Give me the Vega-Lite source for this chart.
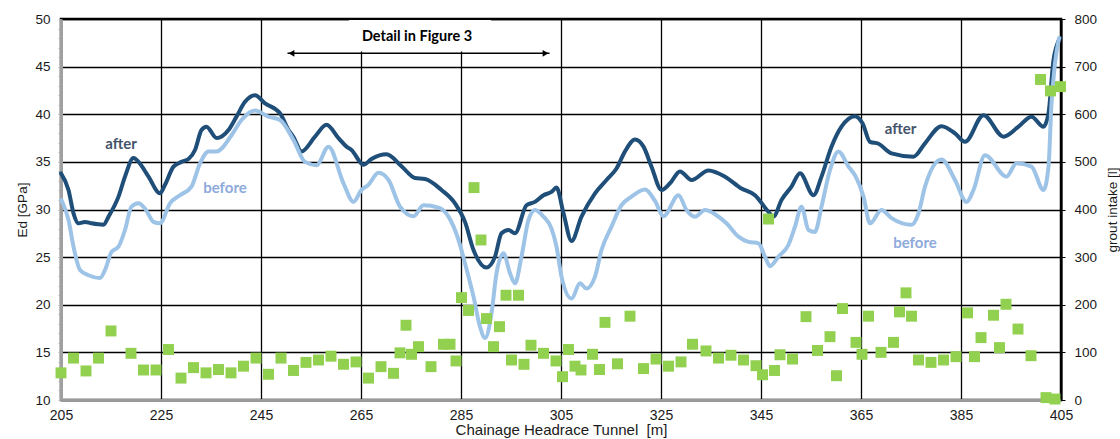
{
  "$schema": "https://vega.github.io/schema/vega-lite/v6.json",
  "width": 1000,
  "height": 381,
  "autosize": {"type": "none"},
  "padding": {"left": 61, "top": 19, "right": 59, "bottom": 39},
  "background": "white",
  "config": {
    "view": {"stroke": "black", "strokeWidth": 2.5},
    "font": "Liberation Sans",
    "axis": {"labelFont": "Liberation Sans", "titleFont": "Liberation Sans", "labelColor": "#1a1a1a", "titleColor": "#1a1a1a", "titleFontWeight": "normal"}
  },
  "datasets": {
    "ed": [
      {"m": 205.0, "series": "after", "ed": 33.8}, {"m": 206.5, "series": "after", "ed": 32.05}, {"m": 207.5, "series": "after", "ed": 29.6},
      {"m": 208.5, "series": "after", "ed": 28.55}, {"m": 209.8, "series": "after", "ed": 28.7}, {"m": 211.1, "series": "after", "ed": 28.55},
      {"m": 213.5, "series": "after", "ed": 28.4}, {"m": 214.5, "series": "after", "ed": 29.25}, {"m": 216.5, "series": "after", "ed": 31.35},
      {"m": 217.8, "series": "after", "ed": 33.45}, {"m": 219.5, "series": "after", "ed": 35.4}, {"m": 220.5, "series": "after", "ed": 35.0},
      {"m": 222.5, "series": "after", "ed": 33.45}, {"m": 224.8, "series": "after", "ed": 31.7}, {"m": 225.8, "series": "after", "ed": 32.6},
      {"m": 227.5, "series": "after", "ed": 34.5}, {"m": 229.1, "series": "after", "ed": 35.0}, {"m": 230.5, "series": "after", "ed": 35.3},
      {"m": 231.8, "series": "after", "ed": 36.25}, {"m": 233.1, "series": "after", "ed": 38.35}, {"m": 234.1, "series": "after", "ed": 38.7},
      {"m": 236.1, "series": "after", "ed": 37.5}, {"m": 238.5, "series": "after", "ed": 38.35}, {"m": 240.1, "series": "after", "ed": 39.75},
      {"m": 241.8, "series": "after", "ed": 41.3}, {"m": 243.8, "series": "after", "ed": 42.0}, {"m": 245.8, "series": "after", "ed": 41.15},
      {"m": 248.8, "series": "after", "ed": 40.1}, {"m": 250.5, "series": "after", "ed": 38.35}, {"m": 251.5, "series": "after", "ed": 37.6},
      {"m": 253.1, "series": "after", "ed": 36.1}, {"m": 255.8, "series": "after", "ed": 37.65}, {"m": 258.1, "series": "after", "ed": 38.9},
      {"m": 260.5, "series": "after", "ed": 37.5}, {"m": 262.1, "series": "after", "ed": 36.6}, {"m": 263.1, "series": "after", "ed": 36.25},
      {"m": 265.5, "series": "after", "ed": 34.7}, {"m": 267.1, "series": "after", "ed": 35.3}, {"m": 270.1, "series": "after", "ed": 35.8},
      {"m": 273.1, "series": "after", "ed": 34.55}, {"m": 275.8, "series": "after", "ed": 33.3}, {"m": 277.8, "series": "after", "ed": 33.2},
      {"m": 281.1, "series": "after", "ed": 32.05}, {"m": 283.8, "series": "after", "ed": 30.65}, {"m": 285.8, "series": "after", "ed": 28.7},
      {"m": 287.5, "series": "after", "ed": 25.75}, {"m": 290.1, "series": "after", "ed": 23.9}, {"m": 291.8, "series": "after", "ed": 25.05},
      {"m": 293.1, "series": "after", "ed": 27.5}, {"m": 294.5, "series": "after", "ed": 27.85}, {"m": 295.8, "series": "after", "ed": 27.5},
      {"m": 298.1, "series": "after", "ed": 30.45}, {"m": 299.8, "series": "after", "ed": 30.8}, {"m": 301.5, "series": "after", "ed": 31.5},
      {"m": 303.1, "series": "after", "ed": 31.85}, {"m": 304.1, "series": "after", "ed": 32.3}, {"m": 305.5, "series": "after", "ed": 29.6},
      {"m": 307.1, "series": "after", "ed": 26.7}, {"m": 309.1, "series": "after", "ed": 29.25}, {"m": 311.8, "series": "after", "ed": 31.7},
      {"m": 314.1, "series": "after", "ed": 33.1}, {"m": 316.1, "series": "after", "ed": 34.3}, {"m": 317.8, "series": "after", "ed": 36.1},
      {"m": 319.8, "series": "after", "ed": 37.35}, {"m": 321.5, "series": "after", "ed": 36.6}, {"m": 323.1, "series": "after", "ed": 34.5},
      {"m": 325.1, "series": "after", "ed": 32.05}, {"m": 326.8, "series": "after", "ed": 32.75}, {"m": 328.8, "series": "after", "ed": 34.0},
      {"m": 331.1, "series": "after", "ed": 33.1}, {"m": 334.5, "series": "after", "ed": 34.1}, {"m": 337.8, "series": "after", "ed": 33.45},
      {"m": 341.1, "series": "after", "ed": 32.2}, {"m": 343.8, "series": "after", "ed": 31.5}, {"m": 346.5, "series": "after", "ed": 29.75},
      {"m": 347.5, "series": "after", "ed": 29.25}, {"m": 349.1, "series": "after", "ed": 31.0}, {"m": 351.1, "series": "after", "ed": 32.4},
      {"m": 352.8, "series": "after", "ed": 33.8}, {"m": 355.5, "series": "after", "ed": 31.5}, {"m": 357.1, "series": "after", "ed": 33.45},
      {"m": 359.1, "series": "after", "ed": 36.6}, {"m": 361.1, "series": "after", "ed": 38.7}, {"m": 363.8, "series": "after", "ed": 39.8},
      {"m": 365.3, "series": "after", "ed": 39.05}, {"m": 366.8, "series": "after", "ed": 37.1}, {"m": 368.5, "series": "after", "ed": 36.9},
      {"m": 371.1, "series": "after", "ed": 35.9}, {"m": 375.5, "series": "after", "ed": 35.55}, {"m": 377.8, "series": "after", "ed": 36.95},
      {"m": 381.1, "series": "after", "ed": 38.75}, {"m": 383.8, "series": "after", "ed": 38.0}, {"m": 385.8, "series": "after", "ed": 37.1},
      {"m": 389.5, "series": "after", "ed": 39.9}, {"m": 393.5, "series": "after", "ed": 37.65}, {"m": 396.5, "series": "after", "ed": 38.7},
      {"m": 399.1, "series": "after", "ed": 39.75}, {"m": 401.5, "series": "after", "ed": 38.7}, {"m": 402.5, "series": "after", "ed": 40.1},
      {"m": 403.5, "series": "after", "ed": 45.7}, {"m": 404.8, "series": "after", "ed": 48.0},

      {"m": 205.1, "series": "before", "ed": 31.0}, {"m": 206.5, "series": "before", "ed": 28.9}, {"m": 207.5, "series": "before", "ed": 26.1},
      {"m": 208.8, "series": "before", "ed": 23.65}, {"m": 210.5, "series": "before", "ed": 23.1}, {"m": 212.8, "series": "before", "ed": 22.8},
      {"m": 213.8, "series": "before", "ed": 23.65}, {"m": 215.1, "series": "before", "ed": 25.55}, {"m": 216.5, "series": "before", "ed": 26.1},
      {"m": 217.8, "series": "before", "ed": 27.85}, {"m": 219.1, "series": "before", "ed": 30.3}, {"m": 220.5, "series": "before", "ed": 30.65},
      {"m": 221.8, "series": "before", "ed": 30.1}, {"m": 223.5, "series": "before", "ed": 28.7}, {"m": 224.8, "series": "before", "ed": 28.55},
      {"m": 226.8, "series": "before", "ed": 30.65}, {"m": 228.8, "series": "before", "ed": 31.5}, {"m": 231.1, "series": "before", "ed": 32.4},
      {"m": 232.8, "series": "before", "ed": 34.85}, {"m": 234.5, "series": "before", "ed": 36.1}, {"m": 236.1, "series": "before", "ed": 36.1},
      {"m": 239.1, "series": "before", "ed": 37.8}, {"m": 241.1, "series": "before", "ed": 39.4}, {"m": 243.8, "series": "before", "ed": 40.4},
      {"m": 246.5, "series": "before", "ed": 39.75}, {"m": 248.8, "series": "before", "ed": 39.4}, {"m": 251.5, "series": "before", "ed": 37.3},
      {"m": 253.8, "series": "before", "ed": 35.0}, {"m": 256.1, "series": "before", "ed": 34.65}, {"m": 258.5, "series": "before", "ed": 36.6},
      {"m": 261.5, "series": "before", "ed": 32.75}, {"m": 263.5, "series": "before", "ed": 30.8}, {"m": 265.1, "series": "before", "ed": 32.05},
      {"m": 266.5, "series": "before", "ed": 32.6}, {"m": 268.5, "series": "before", "ed": 33.85}, {"m": 270.5, "series": "before", "ed": 33.1},
      {"m": 272.8, "series": "before", "ed": 30.3}, {"m": 275.5, "series": "before", "ed": 29.3}, {"m": 277.5, "series": "before", "ed": 30.45},
      {"m": 280.5, "series": "before", "ed": 30.2}, {"m": 282.5, "series": "before", "ed": 29.25}, {"m": 284.5, "series": "before", "ed": 26.8},
      {"m": 285.8, "series": "before", "ed": 24.35}, {"m": 287.5, "series": "before", "ed": 20.85}, {"m": 288.8, "series": "before", "ed": 17.7},
      {"m": 289.8, "series": "before", "ed": 16.5}, {"m": 291.1, "series": "before", "ed": 19.1}, {"m": 292.1, "series": "before", "ed": 23.3},
      {"m": 293.5, "series": "before", "ed": 25.4}, {"m": 294.8, "series": "before", "ed": 23.3}, {"m": 295.8, "series": "before", "ed": 22.25},
      {"m": 297.1, "series": "before", "ed": 25.05}, {"m": 298.5, "series": "before", "ed": 28.9}, {"m": 299.8, "series": "before", "ed": 29.95},
      {"m": 301.5, "series": "before", "ed": 29.25}, {"m": 303.1, "series": "before", "ed": 28.0}, {"m": 304.1, "series": "before", "ed": 26.1},
      {"m": 305.1, "series": "before", "ed": 22.95}, {"m": 307.1, "series": "before", "ed": 20.65}, {"m": 308.8, "series": "before", "ed": 22.25},
      {"m": 310.1, "series": "before", "ed": 21.7}, {"m": 311.8, "series": "before", "ed": 22.95}, {"m": 313.1, "series": "before", "ed": 25.75},
      {"m": 315.1, "series": "before", "ed": 28.2}, {"m": 317.1, "series": "before", "ed": 30.45}, {"m": 319.1, "series": "before", "ed": 31.35},
      {"m": 321.8, "series": "before", "ed": 32.1}, {"m": 323.8, "series": "before", "ed": 30.9}, {"m": 325.5, "series": "before", "ed": 29.3},
      {"m": 328.5, "series": "before", "ed": 31.5}, {"m": 330.1, "series": "before", "ed": 29.95}, {"m": 331.8, "series": "before", "ed": 29.25},
      {"m": 333.8, "series": "before", "ed": 29.95}, {"m": 336.1, "series": "before", "ed": 29.4}, {"m": 338.1, "series": "before", "ed": 28.55},
      {"m": 340.5, "series": "before", "ed": 27.15}, {"m": 342.5, "series": "before", "ed": 26.6}, {"m": 344.5, "series": "before", "ed": 26.45},
      {"m": 345.8, "series": "before", "ed": 25.05}, {"m": 346.8, "series": "before", "ed": 24.05}, {"m": 348.5, "series": "before", "ed": 25.05},
      {"m": 350.5, "series": "before", "ed": 26.3}, {"m": 351.8, "series": "before", "ed": 28.2}, {"m": 353.1, "series": "before", "ed": 30.3},
      {"m": 354.5, "series": "before", "ed": 27.85}, {"m": 355.8, "series": "before", "ed": 27.65}, {"m": 357.1, "series": "before", "ed": 30.3},
      {"m": 358.8, "series": "before", "ed": 34.15}, {"m": 360.5, "series": "before", "ed": 36.1}, {"m": 362.5, "series": "before", "ed": 34.5},
      {"m": 363.9, "series": "before", "ed": 33.5}, {"m": 365.5, "series": "before", "ed": 31.35}, {"m": 366.8, "series": "before", "ed": 28.55},
      {"m": 369.1, "series": "before", "ed": 29.95}, {"m": 371.1, "series": "before", "ed": 29.1}, {"m": 375.1, "series": "before", "ed": 28.4},
      {"m": 376.5, "series": "before", "ed": 29.6}, {"m": 377.8, "series": "before", "ed": 32.4}, {"m": 381.1, "series": "before", "ed": 35.25},
      {"m": 383.8, "series": "before", "ed": 33.1}, {"m": 386.1, "series": "before", "ed": 30.8}, {"m": 387.5, "series": "before", "ed": 32.05},
      {"m": 389.8, "series": "before", "ed": 35.7}, {"m": 394.1, "series": "before", "ed": 33.45}, {"m": 396.1, "series": "before", "ed": 34.85},
      {"m": 399.1, "series": "before", "ed": 34.5}, {"m": 401.5, "series": "before", "ed": 32.05}, {"m": 402.5, "series": "before", "ed": 34.5},
      {"m": 403.1, "series": "before", "ed": 41.15}, {"m": 403.8, "series": "before", "ed": 45.35}, {"m": 404.6, "series": "before", "ed": 48.0}
    ],
    "grout": [
      {"m": 205, "litres": 57}, {"m": 207.5, "litres": 88}, {"m": 210, "litres": 61}, {"m": 212.5, "litres": 88}, {"m": 215, "litres": 145},
      {"m": 219, "litres": 98}, {"m": 221.5, "litres": 63}, {"m": 224, "litres": 63}, {"m": 226.5, "litres": 106}, {"m": 229, "litres": 46},
      {"m": 231.5, "litres": 68}, {"m": 234, "litres": 57}, {"m": 236.5, "litres": 64}, {"m": 239, "litres": 57}, {"m": 241.5, "litres": 71},
      {"m": 244, "litres": 88}, {"m": 246.5, "litres": 54}, {"m": 249, "litres": 88}, {"m": 251.5, "litres": 62}, {"m": 254, "litres": 79},
      {"m": 256.5, "litres": 84}, {"m": 259, "litres": 92}, {"m": 261.5, "litres": 75}, {"m": 264, "litres": 80}, {"m": 266.5, "litres": 46},
      {"m": 269, "litres": 70}, {"m": 271.5, "litres": 56}, {"m": 272.8, "litres": 99}, {"m": 274, "litres": 157}, {"m": 275.1, "litres": 96},
      {"m": 276.5, "litres": 112}, {"m": 279, "litres": 70}, {"m": 281.5, "litres": 117}, {"m": 282.8, "litres": 117}, {"m": 284, "litres": 82},
      {"m": 285.1, "litres": 215}, {"m": 286.5, "litres": 188}, {"m": 287.6, "litres": 446}, {"m": 289, "litres": 336}, {"m": 290.1, "litres": 171},
      {"m": 291.5, "litres": 112}, {"m": 292.7, "litres": 154}, {"m": 294, "litres": 220}, {"m": 295.1, "litres": 84}, {"m": 296.5, "litres": 220},
      {"m": 297.6, "litres": 75}, {"m": 299, "litres": 115}, {"m": 301.5, "litres": 98}, {"m": 304, "litres": 82}, {"m": 305.3, "litres": 49},
      {"m": 306.5, "litres": 106}, {"m": 307.8, "litres": 71}, {"m": 309, "litres": 63}, {"m": 311.3, "litres": 96}, {"m": 312.7, "litres": 64},
      {"m": 313.8, "litres": 163}, {"m": 316.3, "litres": 76}, {"m": 318.8, "litres": 176}, {"m": 321.5, "litres": 66}, {"m": 324, "litres": 86},
      {"m": 326.5, "litres": 71}, {"m": 329, "litres": 80}, {"m": 331.3, "litres": 117}, {"m": 334, "litres": 103}, {"m": 336.5, "litres": 88},
      {"m": 339, "litres": 94}, {"m": 341.5, "litres": 84}, {"m": 344, "litres": 72}, {"m": 345.3, "litres": 53}, {"m": 346.5, "litres": 380},
      {"m": 347.7, "litres": 62}, {"m": 348.8, "litres": 95}, {"m": 351.3, "litres": 86}, {"m": 354, "litres": 175}, {"m": 356.3, "litres": 104},
      {"m": 358.8, "litres": 133}, {"m": 360.1, "litres": 51}, {"m": 361.3, "litres": 192}, {"m": 364, "litres": 121}, {"m": 365.2, "litres": 96},
      {"m": 366.5, "litres": 176}, {"m": 369, "litres": 100}, {"m": 371.5, "litres": 121}, {"m": 372.7, "litres": 185}, {"m": 374, "litres": 225},
      {"m": 375.1, "litres": 176}, {"m": 376.5, "litres": 84}, {"m": 379, "litres": 79}, {"m": 381.5, "litres": 84}, {"m": 384, "litres": 91},
      {"m": 386.3, "litres": 183}, {"m": 387.7, "litres": 91}, {"m": 389, "litres": 131}, {"m": 391.5, "litres": 178}, {"m": 392.7, "litres": 110},
      {"m": 394, "litres": 201}, {"m": 396.4, "litres": 149}, {"m": 399, "litres": 93}, {"m": 400.9, "litres": 673}, {"m": 402, "litres": 5},
      {"m": 402.9, "litres": 649}, {"m": 403.8, "litres": 2}, {"m": 404.9, "litres": 658}
    ],
    "notes": [
      {"kind": "after", "m": 217.0, "ed": 36.9, "label": "after"},
      {"kind": "after", "m": 372.9, "ed": 38.45, "label": "after"},
      {"kind": "before", "m": 237.8, "ed": 32.3, "label": "before"},
      {"kind": "before", "m": 375.8, "ed": 26.5, "label": "before"},
      {"kind": "detail", "m": 276.2, "ed": 48.06, "label": "Detail in Figure 3"}
    ],
    "notebox": [{"m": 262.6, "m2": 291.0, "ed": 46.6, "ed2": 49.9}],
    "span": [{"m": 250.3, "m2": 302.7, "ed": 46.4}],
    "heads": [{"m": 251.1, "ed": 46.4, "dir": "left"}, {"m": 301.9, "ed": 46.4, "dir": "right"}]
  },
  "layer": [
    {
      "data": {"name": "ed"},
      "mark": {"type": "line", "strokeWidth": 4, "interpolate": "monotone", "strokeCap": "round", "strokeJoin": "round"},
      "encoding": {
        "x": {
          "field": "m", "type": "quantitative",
          "scale": {"domain": [205, 405], "nice": false, "zero": false},
          "axis": {
            "title": "Chainage Headrace Tunnel \u00a0[m]",
            "values": [205, 225, 245, 265, 285, 305, 325, 345, 365, 385, 405],
            "grid": true, "gridColor": "black", "gridWidth": 1.3,
            "domainColor": "#9a9a9a", "domainWidth": 3,
            "ticks": false, "labelPadding": 8, "labelFontSize": 14, "labelFlush": false, "labelOverlap": false,
            "titleFontSize": 15, "titlePadding": 0
          }
        },
        "y": {
          "field": "ed", "type": "quantitative",
          "scale": {"domain": [10, 50], "nice": false, "zero": false},
          "axis": {
            "title": "Ed [GPa]",
            "values": [10, 11, 12, 13, 14, 15, 16, 17, 18, 19, 20, 21, 22, 23, 24, 25, 26, 27, 28, 29, 30, 31, 32, 33, 34, 35, 36, 37, 38, 39, 40, 41, 42, 43, 44, 45, 46, 47, 48, 49, 50],
            "labelExpr": "datum.value % 5 === 0 ? datum.label : ''",
            "labelOverlap": false, "labelBound": false, "labelFlush": false,
            "grid": true, "gridColor": "black", "gridWidth": 1.3,
            "gridOpacity": {"condition": {"test": "datum.value % 5 === 0", "value": 1}, "value": 0},
            "domainColor": "#a0a0a0", "domainWidth": 3,
            "tickColor": "#b4b4b4", "tickSize": 3, "tickWidth": 1,
            "labelFontSize": 13.5, "labelPadding": 8,
            "titleFontSize": 13.5, "titlePadding": 5
          }
        },
        "color": {
          "field": "series", "type": "nominal",
          "scale": {"domain": ["after", "before"], "range": ["#1f4e79", "#9dc3e6"]},
          "legend": null
        }
      }
    },
    {
      "data": {"name": "notebox"},
      "mark": {"type": "rect", "color": "white", "opacity": 1},
      "encoding": {
        "x": {"field": "m", "type": "quantitative", "scale": {"domain": [205, 405], "nice": false, "zero": false}},
        "x2": {"field": "m2"},
        "y": {"field": "ed", "type": "quantitative", "scale": {"domain": [10, 50], "nice": false, "zero": false}, "axis": null},
        "y2": {"field": "ed2"}
      }
    },
    {
      "data": {"name": "span"},
      "mark": {"type": "rule", "color": "black", "strokeWidth": 1.6},
      "encoding": {
        "x": {"field": "m", "type": "quantitative", "scale": {"domain": [205, 405], "nice": false, "zero": false}},
        "x2": {"field": "m2"},
        "y": {"field": "ed", "type": "quantitative", "scale": {"domain": [10, 50], "nice": false, "zero": false}, "axis": null}
      }
    },
    {
      "data": {"name": "heads"},
      "mark": {"type": "point", "filled": true, "color": "black", "opacity": 1, "size": 45},
      "encoding": {
        "x": {"field": "m", "type": "quantitative", "scale": {"domain": [205, 405], "nice": false, "zero": false}},
        "y": {"field": "ed", "type": "quantitative", "scale": {"domain": [10, 50], "nice": false, "zero": false}, "axis": null},
        "shape": {"field": "dir", "type": "nominal", "scale": {"domain": ["left", "right"], "range": ["triangle-left", "triangle-right"]}, "legend": null}
      }
    },
    {
      "data": {"name": "notes"},
      "transform": [{"filter": "datum.kind === 'after'"}],
      "mark": {"type": "text", "font": "Lato", "fontWeight": "bold", "fontSize": 15, "color": "#44546a"},
      "encoding": {
        "x": {"field": "m", "type": "quantitative", "scale": {"domain": [205, 405], "nice": false, "zero": false}},
        "y": {"field": "ed", "type": "quantitative", "scale": {"domain": [10, 50], "nice": false, "zero": false}, "axis": null},
        "text": {"field": "label"}
      }
    },
    {
      "data": {"name": "notes"},
      "transform": [{"filter": "datum.kind === 'before'"}],
      "mark": {"type": "text", "font": "Lato", "fontWeight": "bold", "fontSize": 15, "color": "#8eaadb"},
      "encoding": {
        "x": {"field": "m", "type": "quantitative", "scale": {"domain": [205, 405], "nice": false, "zero": false}},
        "y": {"field": "ed", "type": "quantitative", "scale": {"domain": [10, 50], "nice": false, "zero": false}, "axis": null},
        "text": {"field": "label"}
      }
    },
    {
      "data": {"name": "notes"},
      "transform": [{"filter": "datum.kind === 'detail'"}],
      "mark": {"type": "text", "font": "Lato", "fontWeight": "bold", "fontSize": 14.5, "color": "black"},
      "encoding": {
        "x": {"field": "m", "type": "quantitative", "scale": {"domain": [205, 405], "nice": false, "zero": false}},
        "y": {"field": "ed", "type": "quantitative", "scale": {"domain": [10, 50], "nice": false, "zero": false}, "axis": null},
        "text": {"field": "label"}
      }
    },
    {
      "data": {"name": "grout"},
      "mark": {"type": "point", "shape": "square", "filled": true, "size": 120, "color": "#92d050", "opacity": 1},
      "encoding": {
        "x": {"field": "m", "type": "quantitative", "scale": {"domain": [205, 405], "nice": false, "zero": false}},
        "y": {
          "field": "litres", "type": "quantitative",
          "scale": {"domain": [0, 800], "nice": false},
          "axis": {
            "orient": "right",
            "title": "grout intake [l]",
            "values": [0, 100, 200, 300, 400, 500, 600, 700, 800],
            "grid": false,
            "domainColor": "black", "domainWidth": 2,
            "tickColor": "black", "tickSize": 4,
            "labelFontSize": 13.5, "labelPadding": 9,
            "titleAngle": -90, "titleBaseline": "top", "titleFontSize": 13.5, "titlePadding": 9
          }
        }
      }
    }
  ],
  "resolve": {"scale": {"y": "independent"}}
}
